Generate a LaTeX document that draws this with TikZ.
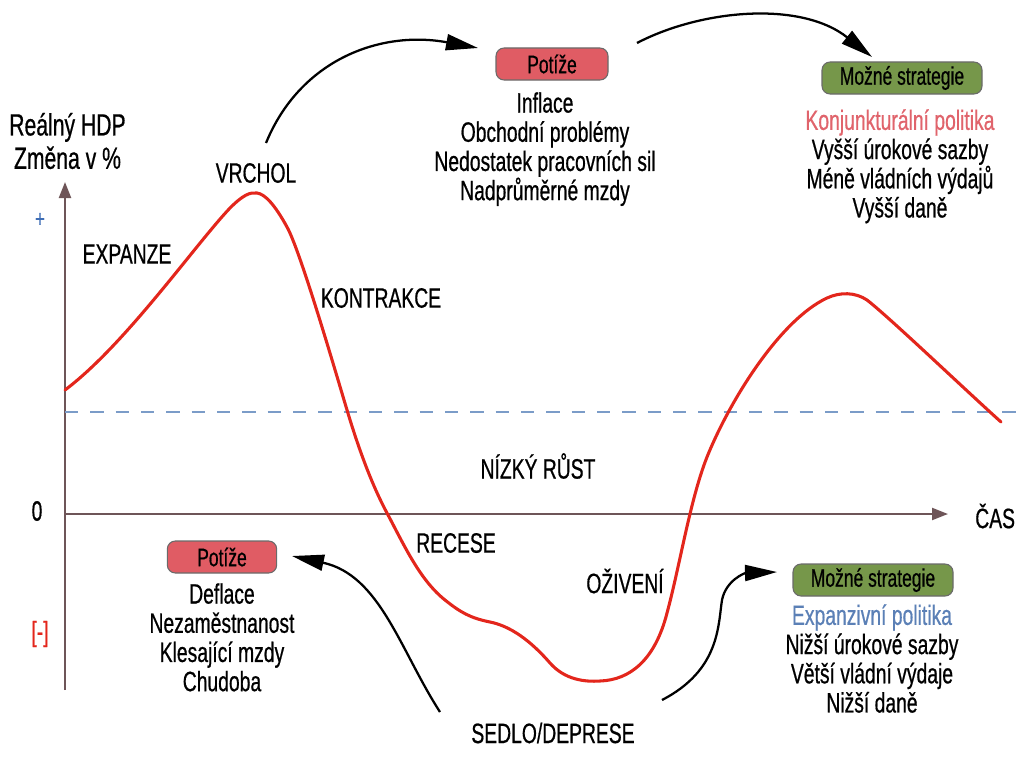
\documentclass[tikz,border=0pt]{standalone}
\usepackage{fontspec}
\setmainfont{Liberation Sans}[FakeStretch=0.69,FakeBold=0.6]
\usetikzlibrary{arrows.meta}
\definecolor{axisc}{HTML}{6E5558}
\definecolor{curvec}{HTML}{E3261C}
\definecolor{dashc}{HTML}{7B9CC8}
\definecolor{redbox}{HTML}{E05C64}
\definecolor{greenbox}{HTML}{76974A}
\definecolor{boxline}{HTML}{6A6A6A}
\definecolor{redtxt}{HTML}{E0646C}
\definecolor{bluetxt}{HTML}{5B80B6}
\definecolor{plusc}{HTML}{3E6DB5}
\tikzset{
  txt/.style={font=\fontsize{21}{22}\selectfont, inner sep=0pt, align=center},
  lst/.style={font=\fontsize{21}{21.9}\selectfont, inner sep=0pt, align=center, anchor=north},
  tag/.style={rounded corners=6pt, draw=boxline, line width=0.8pt, minimum height=24pt, inner sep=0pt, font=\fontsize{19}{20}\selectfont},
  axisline/.style={draw=axisc, line width=1.6pt, -{Triangle[length=12pt,width=9pt]}},
  bigarrow/.style={draw=black, line width=1.7pt, -{Triangle[length=24pt,width=12pt]}},
}
\begin{document}
\begin{tikzpicture}[x=0.75pt,y=-0.75pt]
\useasboundingbox (0,0) rectangle (1019,767);
% axes
\coordinate (origin) at (65,514);
\coordinate (ybot) at (65,690);
\coordinate (ytop) at (65,182);
\coordinate (xend) at (948,514);
\draw[axisline] (ybot) -- (ytop);
\draw[axisline] (origin) -- (xend);
% dashed low growth line
\coordinate (d1) at (65,412);
\coordinate (d2) at (1016,412);
\draw[dashc, line width=1.7pt, dash pattern=on 10pt off 9pt] (d1) -- (d2);
% axis labels
\node[txt, anchor=west, font=\fontsize{23}{24}\selectfont] (ylab) at (9,141) {Reálný HDP\\[1pt]Změna v \%};
\node[txt] (zero) at (37,511) {0};
\node[txt, text=plusc, font=\fontsize{18}{18}\selectfont] (plus) at (40,220) {+};
\node[txt, text=curvec] (minus) at (40,634) {[-]};
\node[txt, anchor=west] (cas) at (975,516) {ČAS};
% curve
\draw[curvec, line width=2.3pt, line cap=round]
 (65,390) .. controls (125,345) and (195,245) .. (230,208)
 .. controls (243,195) and (250,192) .. (257,193)
 .. controls (265,194) and (275,205) .. (287,227)
 .. controls (300,250) and (335,370) .. (347,410)
 .. controls (359,450) and (372,485) .. (387,513)
 .. controls (405,547) and (420,580) .. (445,600)
 .. controls (460,612) and (470,618) .. (490,622)
 .. controls (510,626) and (530,640) .. (550,663)
 .. controls (565,680) and (585,682) .. (600,681)
 .. controls (630,680) and (655,660) .. (667,613)
 .. controls (680,565) and (690,500) .. (707,457)
 .. controls (730,400) and (780,320) .. (827,298)
 .. controls (840,292) and (855,292) .. (867,300)
 .. controls (890,318) and (960,385) .. (1001,422);
% phase labels
\node[txt] (vrchol) at (256,173) {VRCHOL};
\node[txt] (expanze) at (127,254) {EXPANZE};
\node[txt] (kontrakce) at (381,298) {KONTRAKCE};
\node[txt] (nizky) at (538,466) {NÍZKÝ RŮST};
\node[txt] (recese) at (456,543) {RECESE};
\node[txt] (ziveni) at (625,581) {OŽIVENÍ};
\node[txt] (sedlo) at (553,733) {SEDLO/DEPRESE};
% boxes
\node[tag, fill=redbox, minimum width=84pt] (p1) at (552,64) {Potíže};
\node[tag, fill=greenbox, minimum width=120pt] (s1) at (902,78) {Možné strategie};
\node[tag, fill=redbox, minimum width=82pt] (p2) at (222,557) {Potíže};
\node[tag, fill=greenbox, minimum width=120pt] (s2) at (873,580) {Možné strategie};
% lists
\node[lst] (l1) at (545,92) {Inflace\\Obchodní problémy\\Nedostatek pracovních sil\\Nadprůměrné mzdy};
\node[lst] (l2) at (900,109) {\textcolor{redtxt}{Konjunkturální politika}\\Vyšší úrokové sazby\\Méně vládních výdajů\\Vyšší daně};
\node[lst] (l3) at (222,583) {Deflace\\Nezaměstnanost\\Klesající mzdy\\Chudoba};
\node[lst] (l4) at (872,604) {\textcolor{bluetxt}{Expanzivní politika}\\Nižší úrokové sazby\\Větší vládní výdaje\\Nižší daně};
% curved arrows
\coordinate (a1s) at (266,143);
\coordinate (a1e) at (478,48);
\draw[bigarrow] (a1s) .. controls (300,60) and (380,30) .. (a1e);
\coordinate (a2s) at (637,43);
\coordinate (a2e) at (872,57);
\draw[bigarrow] (a2s) .. controls (700,10) and (800,0) .. (a2e);
\coordinate (a3s) at (440,712);
\coordinate (a3e) at (292,556);
\draw[bigarrow] (a3s) .. controls (400,650) and (380,575) .. (a3e);
\coordinate (a4s) at (662,700);
\coordinate (a4e) at (777,572);
\draw[bigarrow] (a4s) .. controls (720,670) and (718,625) .. (722,600) .. controls (726,580) and (745,573) .. (a4e);
\end{tikzpicture}
\end{document}
